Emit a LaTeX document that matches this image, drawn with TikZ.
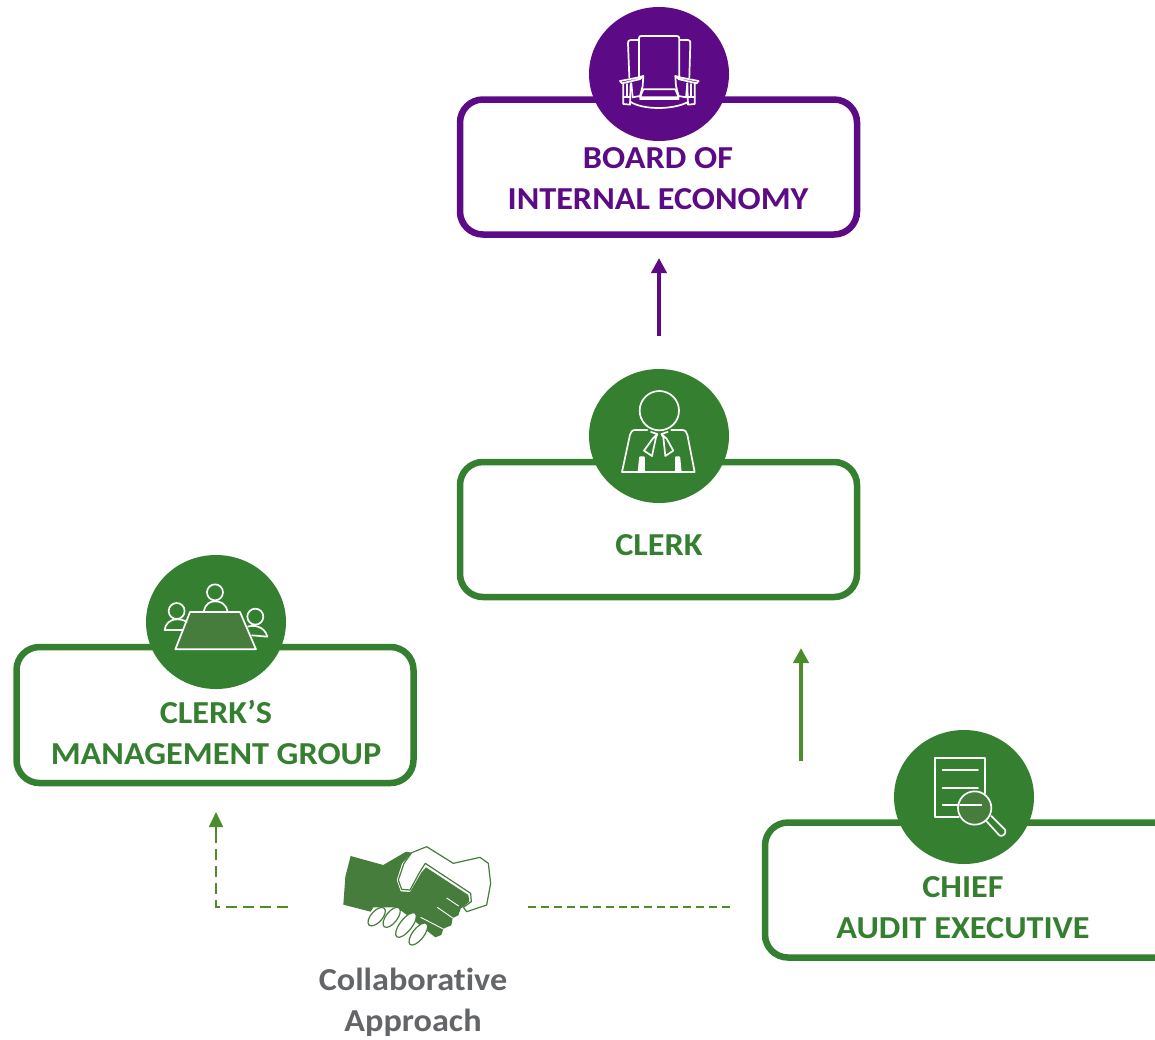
\documentclass[tikz,border=0pt]{standalone}
\usepackage{fontspec}
\setmainfont[FakeStretch=1.07,Ligatures=NoCommon]{Carlito}
\usetikzlibrary{arrows.meta,shapes.geometric}
\definecolor{purp}{HTML}{5C0A85}
\definecolor{grn}{HTML}{357F30}
\definecolor{arrgrn}{HTML}{4C8C2B}
\definecolor{hand}{HTML}{467C3C}
\definecolor{txtgrey}{HTML}{636569}
\tikzset{
  panel/.style={draw=#1,line width=6.5pt,rounded corners=23pt,fill=white,inner sep=0pt},
  disc/.style={ellipse,fill=#1,minimum width=140pt,minimum height=134pt,inner sep=0pt},
  label/.style={text=#1,font=\fontsize{32}{41}\selectfont\bfseries,align=center,inner sep=0pt},
  icon/.style={draw=white,line width=1.7pt,line join=round,line cap=round},
  uparrow/.style={draw=#1,line width=4pt,-{Triangle[length=15pt,width=15pt]}},
  dashlink/.style={draw=arrgrn,line width=2pt,dash pattern=on 11pt off 6pt},
  thinfinger/.style={draw=hand,line width=1.2pt,fill=white}
}
\begin{document}
\begin{tikzpicture}[x=1pt,y=-1pt]
\useasboundingbox (0,0) rectangle (1155,1039);
% panels
\begin{scope}
\clip (0,0) rectangle (1155,1039);
\node[panel=purp,minimum width=397pt,minimum height=135pt] (boardbox) at (658.5,167) {};
\node[panel=grn,minimum width=397pt,minimum height=135pt] (clerkbox) at (658.5,529.5) {};
\node[panel=grn,minimum width=397pt,minimum height=136pt] (cmgbox) at (215,715) {};
\node[panel=grn,minimum width=420pt,minimum height=135pt] (caebox) at (975,890) {};
\end{scope}
% discs
\node[disc=purp] (boarddisc) at (659,74) {};
\node[disc=grn] (clerkdisc) at (659,436) {};
\node[disc=grn] (cmgdisc) at (216,622) {};
\node[disc=grn] (caedisc) at (964,797) {};
% labels
\node[label=purp] (boardtxt) at (658,179) {BOARD OF\\INTERNAL ECONOMY};
\node[label=grn] (clerktxt) at (659,545) {CLERK};
\node[label=grn] (cmgtxt) at (216,732.5) {CLERK’S\\MANAGEMENT GROUP};
\node[label=grn] (caetxt) at (963,908) {CHIEF\\AUDIT EXECUTIVE};
\node[label=txtgrey] (collab) at (413,1002.5) {Collaborative\\Approach};
% arrows
\coordinate (a1s) at (659,336);
\coordinate (a1e) at (659,258);
\coordinate (a2s) at (801,761);
\coordinate (a2e) at (801,648);
\coordinate (d1s) at (288,907);
\coordinate (d1c) at (216,907);
\coordinate (d1e) at (216,812);
\coordinate (d1t) at (216,832);
\coordinate (d2s) at (528,907);
\coordinate (d2e) at (730,907);
\draw[uparrow=purp] (a1s) -- (a1e);
\draw[uparrow=arrgrn] (a2s) -- (a2e);
\draw[dashlink] (d1s) -- (d1c) -- (d1t);
\draw[draw=arrgrn,line width=2pt,-{Triangle[length=15pt,width=14pt]}] (d1t) -- (d1e);
\draw[dashlink,line width=1.6pt,dash pattern=on 8pt off 4.93pt] (d2s) -- (d2e);
% chair
\begin{scope}[shift={(560,0)},x=0.3333pt,y=-0.3333pt,icon]
\draw (237,235) -- (237,115) .. controls (237,108) and (240,108) .. (245,108) -- (350,108) .. controls (356,108) and (358,110) .. (358,116) -- (358,235);
\draw (235,120) -- (212,120) .. controls (205,120) and (204,124) .. (204,130) -- (208,232);
\draw (360,120) -- (384,120) .. controls (390,120) and (391,124) .. (391,130) -- (388,232);
\draw (180,243) -- (232,233) -- (250,228) -- (238,238) -- (186,250) -- cycle;
\draw (416,243) -- (364,233) -- (346,228) -- (358,238) -- (410,250) -- cycle;
\draw (238,238) -- (250,228) -- (248,258) -- (240,288) -- (218,292) -- (214,250);
\draw (358,238) -- (346,228) -- (348,258) -- (356,288) -- (378,292) -- (382,250);
\draw (190,250) -- (190,312) -- (210,314) -- (212,250);
\draw (404,250) -- (404,312) -- (384,314) -- (382,250);
\draw (190,292) -- (210,292) (404,292) -- (384,292);
\draw (200,252) -- (200,290) (394,252) -- (394,290);
\draw (250,268) -- (346,268) -- (356,292) -- (240,292) -- cycle;
\draw (240,296) -- (356,296);
\draw (212,306) .. controls (250,330) and (340,330) .. (384,306);
\end{scope}
% clerk person
\begin{scope}[shift={(570,360)},x=0.3333pt,y=-0.3333pt,icon]
\draw (268,152) circle[radius=59];
\draw (232,210) -- (196,210) .. controls (186,210) and (182,216) .. (180,224) -- (156,336) -- (374,336) -- (352,224) .. controls (350,216) and (346,210) .. (336,210) -- (304,210);
\draw (243,216) -- (262,222) -- (248,236) -- (222,272) -- (246,288) -- (258,232) -- (262,222);
\draw (293,216) -- (274,222) -- (290,236) -- (310,272) -- (286,288) -- (280,232) -- (274,222);
\draw[fill=white] (206,332) -- (210,292) -- (222,292) -- (222,332) -- cycle;
\draw[fill=white] (318,332) -- (318,292) -- (328,292) -- (332,332) -- cycle;
\end{scope}
% meeting
\begin{scope}[shift={(130,550)},x=0.3333pt,y=-0.3333pt,icon]
\draw[fill=hand] (180,186) -- (330,186) -- (378,298) -- (136,298) -- cycle;
\draw (255,127) circle[radius=24];
\draw (222,182) .. controls (228,160) and (240,154) .. (255,154) .. controls (272,154) and (286,160) .. (292,182);
\draw (140,183) circle[radius=24];
\draw (160,240) -- (104,240) .. controls (106,222) and (118,208) .. (142,208) .. controls (150,208) and (162,210) .. (170,216);
\draw (376,200) circle[radius=24];
\draw (354,230) .. controls (370,224) and (404,228) .. (412,260) -- (366,256);
\end{scope}
% report + magnifier
\begin{scope}[shift={(880,730)},x=0.3333pt,y=-0.3333pt,icon]
\draw (236,262) -- (166,262) -- (166,84) -- (316,84) -- (316,190);
\draw (188,121) -- (294,121);
\draw (188,173) -- (294,173);
\draw (188,226) -- (232,226);
\draw[fill=hand] (284,234) circle[radius=50];
\draw (240,226) -- (304,226);
\draw (318,272) -- (358,316) .. controls (366,322) and (380,312) .. (376,300) -- (334,258);
\end{scope}
% handshake
\begin{scope}[shift={(330,830)},x=0.3333pt,y=-0.3333pt]
\draw[draw=hand,line width=1.2pt,fill=white,line join=round] (245,68) -- (290,50) -- (370,100) -- (450,82) -- (475,100) -- (482,160) -- (470,225) -- (410,245) -- (400,232) -- (424,215) -- (422,190) -- (286,100) -- (270,125) -- (240,180) -- (215,178) -- (205,150) -- (222,100) -- cycle;
\fill[hand] (62,78) -- (160,105) -- (228,65) -- (246,68) -- (216,100) -- (200,150) -- (212,184) -- (240,186) -- (274,128) -- (288,112) -- (415,195) -- (418,215) -- (392,236) -- (385,256) -- (368,264) -- (364,286) -- (340,296) -- (334,315) -- (316,322) -- (240,262) -- (200,232) -- (130,232) -- (122,245) -- (40,224) -- (46,140) -- cycle;
\draw[white,line width=0.9pt] (350,204) -- (386,228) (322,232) -- (368,264) (272,262) -- (338,296);
\draw[thinfinger,rotate around={48:(140,260)}] (140,260) ellipse[x radius=34,y radius=17];
\draw[thinfinger,rotate around={52:(185,262)}] (185,262) ellipse[x radius=36,y radius=17];
\draw[thinfinger,rotate around={52:(228,285)}] (228,285) ellipse[x radius=45,y radius=18];
\draw[thinfinger,rotate around={52:(265,312)}] (265,312) ellipse[x radius=40,y radius=17];
\end{scope}
\end{tikzpicture}
\end{document}
